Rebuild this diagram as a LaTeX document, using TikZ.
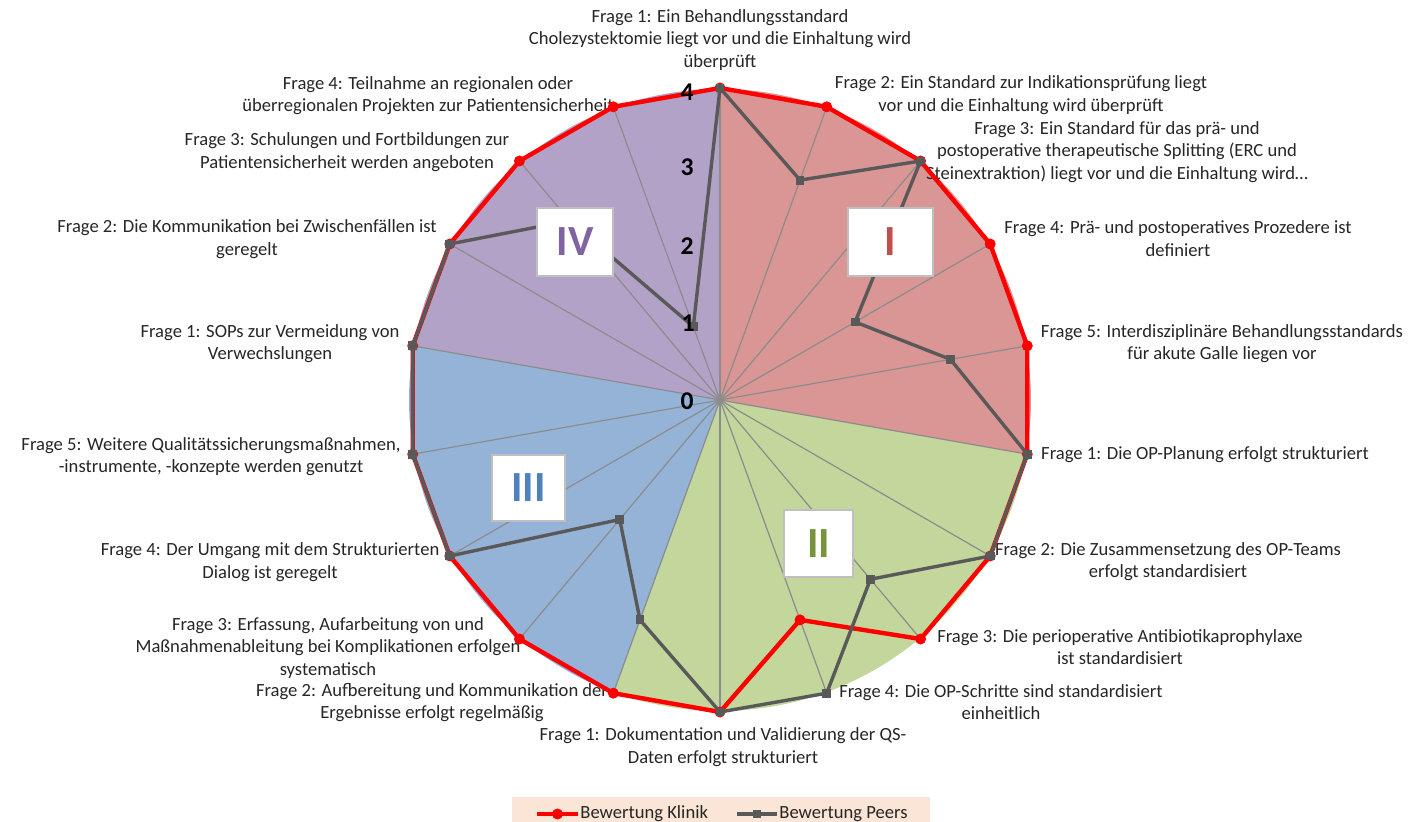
\documentclass[tikz,border=0pt]{standalone}
\usepackage{fontspec}
\setmainfont{Carlito}
\definecolor{secI}{HTML}{D99694}
\definecolor{secII}{HTML}{C3D69B}
\definecolor{secIII}{HTML}{95B3D7}
\definecolor{secIV}{HTML}{B3A2C7}
\definecolor{txtI}{HTML}{C0504D}
\definecolor{txtII}{HTML}{77933C}
\definecolor{txtIII}{HTML}{4F81BD}
\definecolor{txtIV}{HTML}{8064A2}
\definecolor{peersc}{HTML}{595959}
\definecolor{spokec}{HTML}{8C8C8C}
\definecolor{legbg}{HTML}{FBE5D6}
\definecolor{lbl}{HTML}{262626}
\definecolor{boxbd}{HTML}{BFBFBF}
\tikzset{
  lab/.style={font=\fontsize{9.3}{11.3}\selectfont, text=lbl, align=center, inner sep=0pt},
  spokeline/.style={draw=spokec, line width=0.6pt},
  klinikline/.style={draw=red, line width=2.2pt, line join=round},
  peersline/.style={draw=peersc, line width=1.7pt, line join=round},
  klmark/.style={circle, fill=red, inner sep=0pt, minimum size=5.5pt},
  pemark/.style={rectangle, fill=peersc, inner sep=0pt, minimum size=4.4pt},
  numbox/.style={rectangle, fill=white, draw=boxbd, line width=0.8pt, inner sep=0pt,
     font=\bfseries\fontsize{21.5}{24}\selectfont},
  axnum/.style={font=\bfseries\fontsize{12.8}{14}\selectfont, text=black, inner sep=0pt},
  legtext/.style={font=\fontsize{9.3}{11.3}\selectfont, text=lbl, inner sep=0pt, anchor=west}
}
\begin{document}
\begin{tikzpicture}[x=0.5pt,y=-0.5pt]
\useasboundingbox (0,0) rectangle (1418,822);
\coordinate (O) at (720,400);
% background sectors
\fill[secI] (O) -- plot[domain=-90:10,samples=60] ({720+311*cos(\x)},{400+311*sin(\x)}) -- cycle;
\fill[secII] (O) -- plot[domain=10:110,samples=60] ({720+311*cos(\x)},{400+311*sin(\x)}) -- cycle;
\fill[secIII] (O) -- plot[domain=110:190,samples=50] ({720+311*cos(\x)},{400+311*sin(\x)}) -- cycle;
\fill[secIV] (O) -- plot[domain=190:270,samples=50] ({720+311*cos(\x)},{400+311*sin(\x)}) -- cycle;
% spokes
\foreach \k in {0,...,17}{
  \coordinate (ax\k) at ({720+312*cos(20*\k-90)},{400+312*sin(20*\k-90)});
  \draw[spokeline] (O) -- (ax\k);
}
% labels
\node[lab] (l0) at (720,40) {Frage 1: Ein Behandlungsstandard\\Cholezystektomie liegt vor und die Einhaltung wird\\überprüft};
\node[lab] (l1) at (1021,95) {Frage 2: Ein Standard zur Indikationsprüfung liegt\\vor und die Einhaltung wird überprüft};
\node[lab] (l2) at (1117,152) {Frage 3: Ein Standard für das prä- und\\postoperative therapeutische Splitting (ERC und\\Steinextraktion) liegt vor und die Einhaltung wird…};
\node[lab] (l3) at (1178,238.5) {Frage 4: Prä- und postoperatives Prozedere ist\\definiert};
\node[lab] (l4) at (1222,343.5) {Frage 5: Interdisziplinäre Behandlungsstandards\\für akute Galle liegen vor};
\node[lab] (l5) at (1205,455) {Frage 1: Die OP-Planung erfolgt strukturiert};
\node[lab] (l6) at (1168,561.5) {Frage 2: Die Zusammensetzung des OP-Teams\\erfolgt standardisiert};
\node[lab] (l7) at (1120,647) {Frage 3: Die perioperative Antibiotikaprophylaxe\\ist standardisiert};
\node[lab] (l8) at (1001,702) {Frage 4: Die OP-Schritte sind standardisiert\\einheitlich};
\node[lab] (l9) at (723,747) {Frage 1: Dokumentation und Validierung der QS-\\Daten erfolgt strukturiert};
\node[lab] (l10) at (432,702.5) {Frage 2: Aufbereitung und Kommunikation der\\Ergebnisse erfolgt regelmäßig};
\node[lab] (l11) at (328,648) {Frage 3: Erfassung, Aufarbeitung von und\\Maßnahmenableitung bei Komplikationen erfolgen\\systematisch};
\node[lab] (l12) at (270,562) {Frage 4: Der Umgang mit dem Strukturierten\\Dialog ist geregelt};
\node[lab] (l13) at (211,456.5) {Frage 5: Weitere Qualitätssicherungsmaßnahmen,\\-instrumente, -konzepte werden genutzt};
\node[lab] (l14) at (270,343.5) {Frage 1: SOPs zur Vermeidung von\\Verwechslungen};
\node[lab] (l15) at (247,239) {Frage 2: Die Kommunikation bei Zwischenfällen ist\\geregelt};
\node[lab] (l16) at (347,152) {Frage 3: Schulungen und Fortbildungen zur\\Patientensicherheit werden angeboten};
\node[lab] (l17) at (428,95.5) {Frage 4: Teilnahme an regionalen oder\\überregionalen Projekten zur Patientensicherheit};
% data points
\foreach \k/\v in {0/4,1/4,2/4,3/4,4/4,5/4,6/4,7/4,8/3,9/4,10/4,11/4,12/4,13/4,14/4,15/4,16/4,17/4}{
  \coordinate (kl\k) at ({720+78*\v*cos(20*\k-90)},{400+78*\v*sin(20*\k-90)});
}
\foreach \k/\v in {0/4,1/3,2/4,3/2,4/3,5/4,6/4,7/3,8/4,9/4,10/3,11/2,12/4,13/4,14/4,15/4,16/3,17/1}{
  \coordinate (pe\k) at ({720+78*\v*cos(20*\k-90)},{400+78*\v*sin(20*\k-90)});
}
% Klinik series
\draw[klinikline] (kl0) -- (kl1) -- (kl2) -- (kl3) -- (kl4) -- (kl5) -- (kl6) -- (kl7) -- (kl8) -- (kl9) -- (kl10) -- (kl11) -- (kl12) -- (kl13) -- (kl14) -- (kl15) -- (kl16) -- (kl17) -- cycle;
\foreach \k in {0,...,17}{ \node[klmark] (km\k) at (kl\k) {}; }
% Peers series
\draw[peersline] (pe0) -- (pe1) -- (pe2) -- (pe3) -- (pe4) -- (pe5) -- (pe6) -- (pe7) -- (pe8) -- (pe9) -- (pe10) -- (pe11) -- (pe12) -- (pe13) -- (pe14) -- (pe15) -- (pe16) -- (pe17) -- cycle;
\foreach \k in {0,...,17}{ \node[pemark] (pm\k) at (pe\k) {}; }
% axis numbers
\node[axnum] (n0) at (687,401) {0};
\node[axnum] (n1) at (688,323) {1};
\node[axnum] (n2) at (687,246) {2};
\node[axnum] (n3) at (687,167) {3};
\node[axnum] (n4) at (687,92) {4};
% section boxes
\node[numbox, text=txtI, minimum width=42.5pt, minimum height=34pt] (bI) at (890.5,242) {I};
\node[numbox, text=txtII, minimum width=34.5pt, minimum height=33.5pt] (bII) at (818.5,543.5) {II};
\node[numbox, text=txtIII, minimum width=36.5pt, minimum height=33pt] (bIII) at (528.5,488) {III};
\node[numbox, text=txtIV, minimum width=38pt, minimum height=34pt] (bIV) at (575,242) {IV};
% legend
\node[fill=legbg, inner sep=0pt, minimum width=209pt, minimum height=12.5pt] (leg) at (721,809.5) {};
\coordinate (lka) at (537,814);
\coordinate (lkb) at (578,814);
\draw[klinikline] (lka) -- (lkb);
\node[klmark] (lkm) at (557.5,814) {};
\node[legtext] (lkt) at (580,814) {Bewertung Klinik};
\coordinate (lpa) at (737,814);
\coordinate (lpb) at (777,814);
\draw[peersline] (lpa) -- (lpb);
\node[pemark] (lpm) at (757,814) {};
\node[legtext] (lpt) at (779,814) {Bewertung Peers};
\end{tikzpicture}
\end{document}
